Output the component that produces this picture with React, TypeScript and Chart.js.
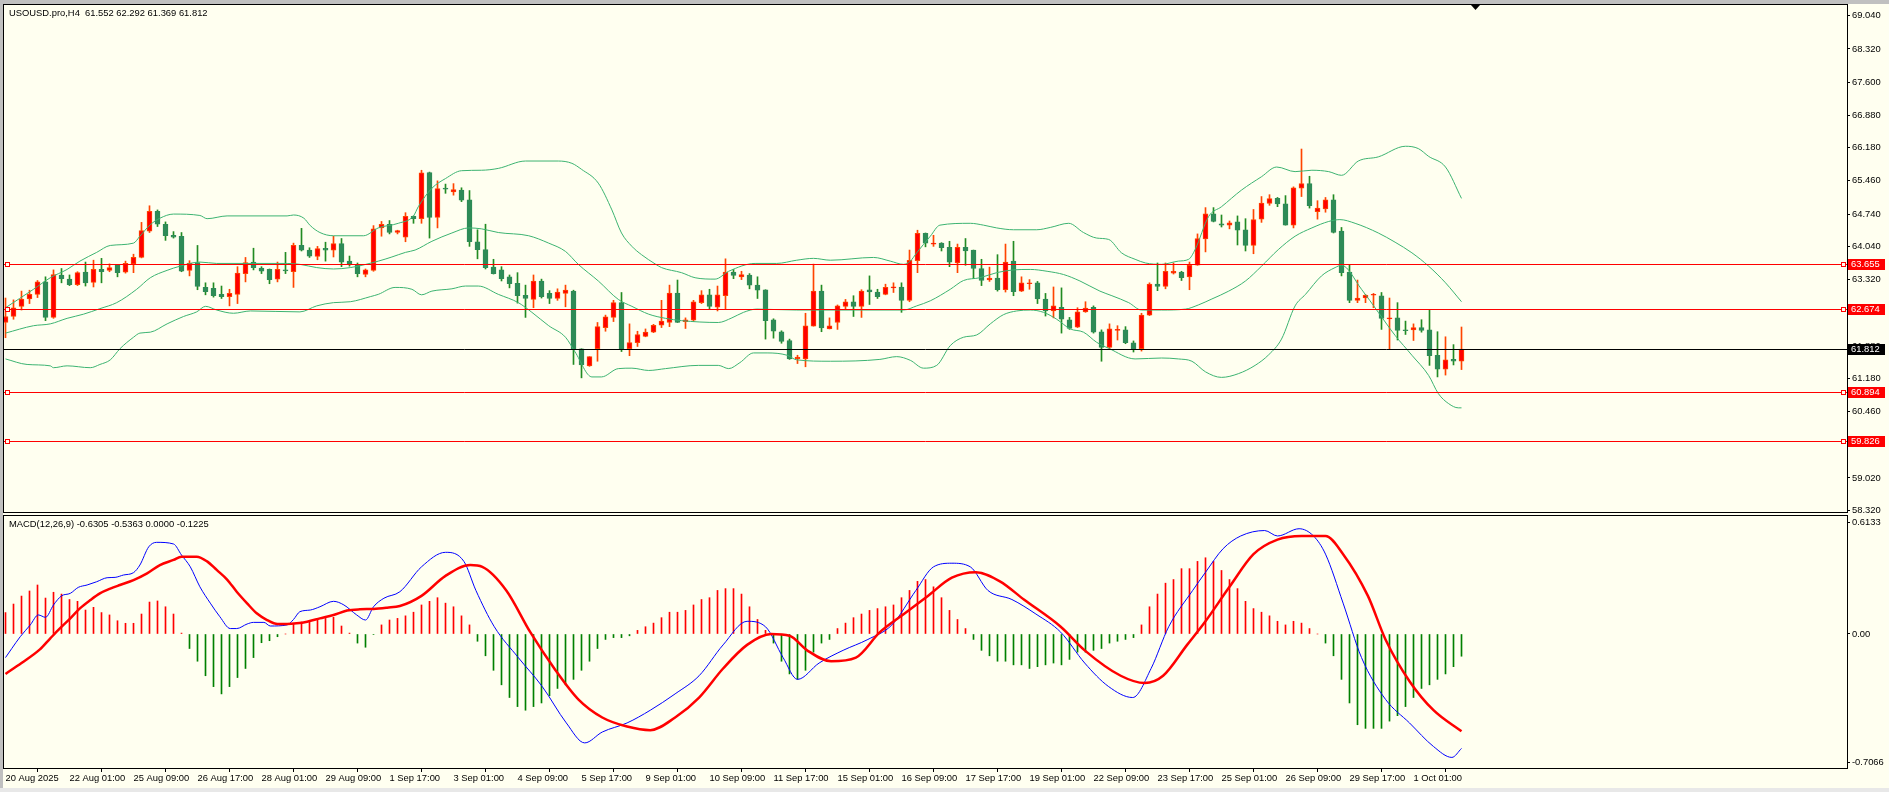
import React, { useEffect, useRef } from "react";
import { Chart, registerables } from "chart.js";

Chart.register(...registerables);

const W = 1889;
const H = 792;
const PRICE_H = 514;
const MACD_H = 278;
const BG = "#FFFFF0";
const FAMILY = "Liberation Sans";
const FS = 9.4;

const symbolTitle = "USOUSD.pro,H4";
const macdTitle = "MACD(12,26,9)";
const macdHeaderValues = [-0.6305, -0.5363, 0.0, -0.1225];

// H4 candles, 20 Aug 2025 17:00 .. 2 Oct 2025 01:00
const opens = [
  62.39, 62.52, 62.74, 62.90, 63.00, 63.27, 62.50, 63.42, 63.33, 63.21,
  63.48, 63.26, 63.54, 63.52, 63.63, 63.48, 63.66, 63.80, 64.37, 64.80,
  64.52, 64.28, 64.26, 63.52, 63.69, 63.15, 63.13, 63.00, 62.95, 63.00,
  63.45, 63.70, 63.57, 63.54, 63.33, 63.53, 63.49, 64.06, 63.96, 63.82,
  64.00, 63.96, 64.10, 63.72, 63.63, 63.43, 63.52, 64.44, 64.52, 64.34,
  64.24, 64.69, 64.64, 65.64, 64.67, 65.29, 65.22, 65.26, 65.05, 64.14,
  63.97, 63.59, 63.53, 63.38, 63.24, 62.98, 62.89, 63.29, 63.02, 62.91,
  63.02, 63.07, 61.82, 61.45, 61.82, 62.28, 62.50, 62.82, 61.82, 61.95,
  62.09, 62.18, 62.33, 62.39, 63.03, 62.41, 62.44, 62.82, 62.99, 62.72,
  62.97, 63.48, 63.38, 63.42, 63.20, 63.10, 62.45, 62.19, 62.00, 61.60,
  61.60, 62.31, 63.07, 62.25, 62.39, 62.74, 62.84, 62.74, 63.10, 63.05,
  63.00, 63.14, 63.16, 62.87, 63.73, 64.32, 64.09, 64.11, 64.02, 63.68,
  64.02, 63.96, 63.56, 63.31, 63.35, 63.10, 63.72, 63.07, 63.23, 63.25,
  62.90, 62.64, 62.72, 62.45, 62.29, 62.62, 62.72, 62.19, 61.85, 62.22,
  62.23, 61.95, 61.82, 62.55, 63.22, 63.17, 63.46, 63.48, 63.38, 63.63,
  64.20, 64.745, 64.53, 64.50, 64.57, 64.40, 64.06, 64.63, 64.97, 65.08,
  64.96, 64.50, 65.30, 65.40, 64.79, 64.85, 65.05, 64.37, 63.48, 62.87,
  62.92, 62.98, 62.97, 62.47, 62.49, 62.23, 62.23, 62.28, 62.23, 61.68,
  61.38, 61.59, 61.552,
];
const highs = [
  62.92, 62.88, 63.07, 63.09, 63.30, 63.38, 63.53, 63.56, 63.42, 63.49,
  63.70, 63.74, 63.78, 63.66, 63.65, 63.72, 63.87, 64.56, 64.92, 64.83,
  64.57, 64.36, 64.34, 63.73, 64.06, 63.25, 63.25, 63.18, 63.11, 63.60,
  63.80, 64.00, 63.60, 63.55, 63.70, 63.91, 64.11, 64.43, 64.01, 64.04,
  64.13, 64.26, 64.21, 63.83, 63.68, 63.55, 64.49, 64.58, 64.60, 64.39,
  64.77, 64.70, 65.69, 65.65, 65.46, 65.39, 65.40, 65.31, 65.25, 64.40,
  64.52, 63.76, 63.60, 63.42, 63.47, 63.20, 63.42, 63.33, 63.08, 63.12,
  63.20, 63.09, 61.82, 61.65, 62.39, 62.55, 62.87, 63.04, 62.36, 62.20,
  62.25, 62.35, 62.87, 63.20, 63.31, 62.49, 62.87, 63.08, 63.11, 63.18,
  63.77, 63.54, 63.50, 63.45, 63.38, 63.10, 62.47, 62.21, 62.03, 61.68,
  62.59, 63.655, 63.20, 62.49, 62.77, 62.89, 62.97, 63.10, 63.40, 63.11,
  63.22, 63.25, 63.25, 63.96, 64.39, 64.33, 64.28, 64.12, 64.15, 64.09,
  64.21, 63.96, 63.76, 63.59, 63.86, 64.09, 64.15, 63.38, 63.32, 63.28,
  63.02, 63.16, 63.14, 62.50, 62.71, 62.84, 62.75, 62.23, 62.36, 62.32,
  62.30, 61.99, 62.59, 63.25, 63.68, 63.68, 63.68, 63.50, 63.70, 64.31,
  64.88, 64.88, 64.72, 64.59, 64.70, 64.64, 64.84, 65.12, 65.16, 65.10,
  65.14, 65.33, 66.15, 65.56, 65.03, 65.10, 65.16, 64.45, 63.64, 63.31,
  63.00, 63.02, 63.04, 62.92, 62.82, 62.42, 62.36, 62.45, 62.66, 62.19,
  62.08, 61.91, 62.292,
];
const lows = [
  62.06, 62.46, 62.66, 62.80, 62.93, 62.43, 62.48, 63.25, 63.19, 63.19,
  63.18, 63.16, 63.25, 63.49, 63.38, 63.46, 63.47, 63.79, 64.34, 64.47,
  64.17, 64.22, 63.49, 63.40, 63.10, 62.99, 62.94, 62.91, 62.75, 62.80,
  63.27, 63.53, 63.45, 63.23, 63.27, 63.45, 63.15, 63.94, 63.80, 63.75,
  63.72, 63.81, 63.60, 63.61, 63.38, 63.38, 63.50, 64.26, 64.31, 64.31,
  64.14, 64.54, 64.54, 64.22, 64.44, 65.19, 65.15, 65.01, 64.04, 63.77,
  63.55, 63.44, 63.29, 63.14, 62.81, 62.50, 62.71, 62.92, 62.80, 62.87,
  62.73, 61.48, 61.19, 61.44, 61.55, 62.20, 62.41, 61.76, 61.67, 61.87,
  62.08, 62.17, 62.28, 62.30, 62.39, 62.26, 62.41, 62.80, 62.67, 62.64,
  62.69, 63.34, 63.32, 63.12, 62.91, 62.03, 62.05, 61.94, 61.59, 61.50,
  61.43, 62.31, 62.19, 62.25, 62.24, 62.69, 62.52, 62.50, 62.78, 62.91,
  62.99, 63.04, 62.61, 62.84, 63.47, 64.03, 64.04, 63.94, 63.60, 63.47,
  63.63, 63.34, 63.19, 63.28, 63.07, 63.05, 62.97, 63.06, 63.11, 62.80,
  62.53, 62.49, 62.16, 62.24, 62.28, 62.61, 62.16, 61.55, 61.82, 62.01,
  61.93, 61.75, 61.77, 62.54, 63.08, 63.12, 63.44, 63.30, 63.10, 63.63,
  63.92, 64.57, 64.46, 64.42, 64.07, 63.94, 63.88, 64.56, 64.93, 64.90,
  64.50, 64.44, 65.12, 64.87, 64.63, 64.78, 64.33, 63.40, 62.82, 62.82,
  62.82, 62.71, 62.24, 61.82, 62.01, 62.13, 62.00, 62.18, 61.46, 61.21,
  61.25, 61.47, 61.369,
];
const closes = [
  62.52, 62.71, 62.90, 63.00, 63.27, 62.50, 63.43, 63.34, 63.21, 63.47,
  63.25, 63.54, 63.49, 63.58, 63.47, 63.67, 63.80, 64.38, 64.80, 64.52,
  64.27, 64.24, 63.50, 63.68, 63.17, 63.06, 62.97, 62.95, 63.02, 63.46,
  63.69, 63.58, 63.50, 63.32, 63.54, 63.51, 64.06, 63.96, 63.83, 63.99,
  63.96, 64.10, 63.70, 63.66, 63.45, 63.53, 64.42, 64.52, 64.34, 64.38,
  64.69, 64.64, 65.635, 64.67, 65.29, 65.28, 65.27, 65.04, 64.14, 63.97,
  63.58, 63.45, 63.34, 63.23, 62.97, 62.91, 63.29, 62.95, 62.91, 63.05,
  63.09, 61.82, 61.47, 61.65, 62.30, 62.51, 62.82, 61.82, 61.955, 62.13,
  62.18, 62.33, 62.42, 63.03, 62.39, 62.45, 62.84, 62.99, 62.74, 62.99,
  63.48, 63.41, 63.43, 63.20, 63.09, 62.43, 62.20, 61.98, 61.60, 61.64,
  62.32, 63.07, 62.27, 62.32, 62.75, 62.84, 62.74, 63.07, 63.05, 62.95,
  63.15, 63.16, 62.87, 63.74, 64.32, 64.11, 64.11, 64.01, 63.70, 64.02,
  63.94, 63.56, 63.30, 63.35, 63.10, 63.70, 63.06, 63.25, 63.25, 62.90,
  62.64, 62.75, 62.46, 62.26, 62.62, 62.70, 62.18, 61.85, 62.25, 62.24,
  61.95, 61.82, 62.55, 63.22, 63.17, 63.50, 63.50, 63.36, 63.63, 64.21,
  64.745, 64.58, 64.50, 64.55, 64.39, 64.06, 64.62, 64.98, 65.076, 64.96,
  64.50, 65.31, 65.40, 64.92, 64.87, 65.05, 64.34, 63.47, 62.87, 62.92,
  62.98, 62.99, 62.48, 62.49, 62.22, 62.21, 62.28, 62.22, 61.67, 61.38,
  61.58, 61.55, 61.812,
];

// Bollinger Bands (20, 2) at bar positions
const bbUpperBar = [0, 3.5, 5.6, 7.7, 9.3, 11.4, 13.1, 16, 16.8, 18.1, 19.3, 21, 24.3, 25.2, 27.7, 35.2, 36, 37.3, 38.1, 39.3, 41, 44.75, 46.6, 49.1, 51, 51.6, 53.3, 55, 57, 59.5, 61.6, 65, 69.1, 70.8, 72, 74.1, 75.8, 77, 78.3, 79.5, 81.2, 82, 84.5, 86.2, 88.7, 90.4, 93.7, 96.4, 98.9, 101, 103.1, 108.5, 110.6, 112.25, 113.1, 113.9, 115.6, 116.8, 120.6, 122.25, 123.9, 126, 128.9, 130.6, 132.9, 134.75, 136.4, 137.9, 139.5, 141.2, 142.5, 144.5, 146.6, 147.9, 148.7, 150.4, 152, 154.5, 157, 158.9, 161.2, 163.3, 165.4, 167, 169.1, 171.6, 175, 176.6, 177.9, 180, 182];
const bbUpperVal = [62.71, 63.11, 63.36, 63.54, 63.72, 63.91, 64.06, 64.11, 64.26, 64.51, 64.65, 64.74, 64.71, 64.64, 64.70, 64.70, 64.72, 64.65, 64.49, 64.34, 64.27, 64.27, 64.44, 64.54, 64.70, 64.90, 65.30, 65.51, 65.68, 65.69, 65.73, 65.89, 65.89, 65.84, 65.71, 65.41, 64.83, 64.33, 64.04, 63.86, 63.66, 63.58, 63.47, 63.36, 63.33, 63.50, 63.67, 63.67, 63.74, 63.78, 63.74, 63.80, 63.72, 63.65, 63.72, 63.90, 64.26, 64.50, 64.54, 64.50, 64.44, 64.40, 64.40, 64.45, 64.54, 64.34, 64.22, 64.19, 63.90, 63.76, 63.68, 63.65, 63.72, 63.76, 63.97, 64.69, 64.90, 65.26, 65.55, 65.76, 65.66, 65.69, 65.66, 65.58, 65.89, 65.98, 66.21, 66.16, 65.99, 65.76, 65.08];

const bbMidBar = [0, 3.5, 5.6, 7.7, 9.75, 11.8, 13.9, 16.4, 18.1, 20.2, 21.8, 24.3, 26.4, 35.2, 36.8, 38.9, 41, 43.1, 46.6, 48.3, 50, 51.2, 53.3, 55.8, 57.9, 59.5, 61.6, 65.4, 67.9, 70, 71.6, 74.1, 76.6, 78.3, 80.4, 82.5, 84.5, 89.1, 90.8, 92.25, 93.9, 98.9, 112.25, 113.9, 115.6, 118.1, 119.75, 121.8, 123.9, 126, 128.1, 130.2, 132.25, 134.3, 136.8, 138.3, 140.4, 142, 144.5, 147.5, 149.1, 150.8, 152.9, 155, 157, 159.1, 161.2, 163.3, 165.4, 166.8, 168.7, 171.6, 173.7, 175.8, 177.9, 180, 182];
const bbMidVal = [62.16, 62.32, 62.36, 62.48, 62.57, 62.69, 62.82, 63.11, 63.36, 63.52, 63.61, 63.70, 63.67, 63.67, 63.65, 63.58, 63.55, 63.58, 63.72, 63.81, 63.91, 63.96, 64.15, 64.33, 64.44, 64.42, 64.34, 64.27, 64.11, 63.93, 63.65, 63.29, 62.89, 62.74, 62.57, 62.48, 62.43, 62.39, 62.49, 62.61, 62.68, 62.66, 62.66, 62.75, 62.86, 63.11, 63.30, 63.36, 63.47, 63.53, 63.54, 63.50, 63.43, 63.29, 63.07, 62.97, 62.82, 62.66, 62.66, 62.68, 62.77, 62.90, 63.07, 63.29, 63.61, 63.97, 64.26, 64.44, 64.58, 64.62, 64.54, 64.33, 64.13, 63.90, 63.61, 63.25, 62.84];

const bbLowerBar = [0, 2.7, 5.6, 6, 7.7, 10.6, 11.8, 13.1, 14.3, 16, 16.8, 18.1, 20.2, 22.25, 23.9, 25, 26.4, 28.5, 30.6, 36.8, 38.9, 41, 43.1, 45.6, 46.6, 48.7, 50.8, 52, 53.3, 55.8, 57.5, 59.1, 61.6, 64.1, 65.8, 67.9, 70, 71.2, 73.3, 74.5, 76.6, 78.3, 80.4, 82.5, 86.6, 89.1, 90.4, 91.8, 93.5, 95.2, 97.7, 98.9, 103.1, 109.3, 111.4, 113.1, 114.75, 116.4, 118.1, 119.75, 121.4, 123.1, 124.75, 126.4, 128.1, 129.75, 131.4, 133.1, 134.75, 136.4, 137.9, 141.2, 144.5, 146.6, 148.3, 150, 152, 154.1, 156.2, 157.9, 159.5, 161.2, 162.5, 164.5, 166.2, 167, 169.5, 171.6, 173.7, 175.8, 177.9, 179.1, 180.4, 181.6, 182];
const bbLowerVal = [61.60, 61.48, 61.45, 61.41, 61.45, 61.41, 61.48, 61.58, 61.82, 62.07, 62.16, 62.18, 62.36, 62.52, 62.62, 62.74, 62.66, 62.59, 62.64, 62.62, 62.75, 62.82, 62.84, 62.95, 63.00, 63.15, 63.11, 62.99, 63.07, 63.12, 63.18, 63.18, 63.00, 62.82, 62.61, 62.32, 62.07, 61.75, 61.21, 61.21, 61.39, 61.40, 61.35, 61.39, 61.46, 61.46, 61.39, 61.52, 61.73, 61.73, 61.68, 61.58, 61.55, 61.59, 61.65, 61.57, 61.40, 61.46, 61.89, 62.07, 62.12, 62.36, 62.56, 62.64, 62.66, 62.61, 62.46, 62.25, 62.18, 61.96, 61.83, 61.60, 61.62, 61.60, 61.55, 61.32, 61.20, 61.28, 61.46, 61.69, 62.03, 62.75, 63.00, 63.40, 63.58, 63.63, 63.11, 62.61, 62.11, 61.68, 61.24, 60.85, 60.63, 60.54, 60.54];

// MACD(12,26,9)
const macdBar = [0, 0.8, 1.84, 3.1, 4.1, 5, 6, 7, 8.1, 9.1, 10.2, 11.4, 12.7, 13.7, 14.75, 16, 16.8, 17.9, 18.9, 21, 22, 23.1, 24.3, 25.6, 26.8, 28.1, 28.9, 30.2, 31, 32.3, 33.1, 35.2, 36, 36.8, 38.1, 39.3, 41, 42.3, 43.9, 45, 46, 47.3, 49.3, 52, 55, 57.3, 58.8, 61.1, 64.1, 67.1, 70.1, 72.4, 74.6, 77.7, 80.6, 83.7, 86.7, 89.7, 92.7, 95, 97.2, 99, 101.7, 104.7, 107.8, 110.8, 113.8, 116, 118.3, 120.6, 122.8, 125.8, 128.8, 131.9, 134.9, 137.9, 140.9, 143.2, 145.4, 148.4, 150, 152.2, 154.4, 157.4, 159, 161.7, 163.5, 165, 167.2, 169.5, 172.5, 175.5, 178.5, 180.8, 182];
const macdVal = [-0.13, -0.079, -0.015, 0.05, 0.105, 0.092, 0.16, 0.21, 0.224, 0.257, 0.27, 0.288, 0.31, 0.312, 0.325, 0.338, 0.38, 0.48, 0.505, 0.496, 0.435, 0.37, 0.26, 0.17, 0.095, 0.03, 0.03, 0.055, 0.064, 0.064, 0.044, 0.05, 0.08, 0.123, 0.132, 0.15, 0.18, 0.16, 0.105, 0.077, 0.15, 0.197, 0.233, 0.37, 0.45, 0.40, 0.24, 0.04, -0.13, -0.29, -0.49, -0.60, -0.54, -0.49, -0.42, -0.33, -0.23, -0.06, 0.07, 0.04, -0.13, -0.25, -0.16, -0.09, -0.03, 0.05, 0.24, 0.37, 0.39, 0.37, 0.24, 0.19, 0.11, 0.01, -0.16, -0.29, -0.35, -0.19, 0.04, 0.24, 0.34, 0.47, 0.54, 0.57, 0.54, 0.58, 0.54, 0.44, 0.17, -0.13, -0.36, -0.49, -0.62, -0.68, -0.6305];

const signalBar = [0, 2, 4.3, 5.6, 6.8, 8.1, 9.3, 10.6, 11.8, 13.1, 14.3, 16, 17.7, 19.3, 21, 22, 23.9, 25.2, 26.4, 27.7, 28.9, 30.2, 31.4, 32.7, 34, 35.2, 36.4, 37.7, 39.3, 41, 42.7, 44.3, 46, 47.7, 49.3, 52, 55, 58.1, 59.6, 62.6, 65.6, 68.6, 71.6, 74.6, 77.7, 80.6, 83.7, 86.7, 89.7, 92.7, 95.7, 98, 100.2, 103.2, 106.3, 109.3, 112.3, 115.3, 118.3, 121.3, 124.3, 127.3, 131.9, 134.9, 139.4, 142.4, 144.7, 147.7, 150, 153, 156, 159, 162, 165, 167.2, 170.3, 172.5, 175.5, 178.5, 182];
const signalVal = [-0.22, -0.16, -0.085, -0.024, 0.031, 0.086, 0.141, 0.187, 0.224, 0.25, 0.27, 0.297, 0.334, 0.38, 0.408, 0.426, 0.426, 0.4, 0.353, 0.3, 0.233, 0.169, 0.114, 0.077, 0.055, 0.055, 0.059, 0.068, 0.086, 0.105, 0.129, 0.136, 0.138, 0.145, 0.154, 0.21, 0.32, 0.38, 0.37, 0.24, 0.01, -0.19, -0.36, -0.46, -0.51, -0.53, -0.46, -0.35, -0.19, -0.06, 0.0, -0.01, -0.09, -0.15, -0.13, 0.01, 0.11, 0.21, 0.31, 0.34, 0.29, 0.19, 0.04, -0.09, -0.23, -0.27, -0.23, -0.06, 0.07, 0.26, 0.44, 0.52, 0.54, 0.54, 0.44, 0.21, -0.03, -0.26, -0.42, -0.5363];

const histVal = [
  0.118, 0.165, 0.209, 0.237, 0.27, 0.198, 0.23, 0.22, 0.19, 0.18,
  0.132, 0.147, 0.118, 0.105, 0.073, 0.059, 0.059, 0.11, 0.176, 0.182,
  0.15, 0.11, 0.005, -0.08, -0.15, -0.23, -0.29, -0.33, -0.29, -0.24,
  -0.19, -0.13, -0.048, -0.037, -0.015, 0.0, 0.053, 0.066, 0.072, 0.079,
  0.086, 0.092, 0.044, 0.005, -0.05, -0.073, -0.003, 0.05, 0.077, 0.086,
  0.10, 0.12, 0.16, 0.18, 0.20, 0.17, 0.15, 0.10, 0.05, -0.04,
  -0.12, -0.2, -0.28, -0.35, -0.40, -0.42, -0.40, -0.38, -0.34, -0.30,
  -0.28, -0.25, -0.2, -0.15, -0.08, -0.03, -0.02, -0.02, -0.01, 0.02,
  0.04, 0.06, 0.09, 0.12, 0.12, 0.13, 0.16, 0.19, 0.2, 0.24,
  0.25, 0.25, 0.22, 0.15, 0.08, 0.02, -0.05, -0.15, -0.22, -0.25,
  -0.2, -0.1, -0.05, -0.03, 0.03, 0.06, 0.09, 0.11, 0.13, 0.14,
  0.15, 0.16, 0.2, 0.24, 0.29, 0.3, 0.26, 0.2, 0.13, 0.08,
  0.03, -0.03, -0.09, -0.12, -0.15, -0.15, -0.17, -0.17, -0.19, -0.18,
  -0.17, -0.16, -0.17, -0.14, -0.1, -0.1, -0.09, -0.08, -0.05, -0.04,
  -0.03, -0.02, 0.05, 0.15, 0.22, 0.28, 0.3, 0.36, 0.36, 0.4,
  0.42, 0.4, 0.35, 0.3, 0.25, 0.18, 0.14, 0.12, 0.1, 0.07,
  0.05, 0.07, 0.06, 0.03, 0.0, -0.05, -0.12, -0.25, -0.38, -0.5,
  -0.52, -0.52, -0.52, -0.48, -0.45, -0.4, -0.35, -0.3, -0.28, -0.25,
  -0.22, -0.18, -0.1225,
];

const timeTickBars = [0, 8, 16, 24, 32, 40, 48, 56, 64, 72, 80, 88, 96, 104, 112, 120, 128, 136, 144, 152, 160, 168, 176];
const timeLabels = [
  "20 Aug 2025", "22 Aug 01:00", "25 Aug 09:00", "26 Aug 17:00", "28 Aug 01:00",
  "29 Aug 09:00", "1 Sep 17:00", "3 Sep 01:00", "4 Sep 09:00", "5 Sep 17:00",
  "9 Sep 01:00", "10 Sep 09:00", "11 Sep 17:00", "15 Sep 01:00", "16 Sep 09:00",
  "17 Sep 17:00", "19 Sep 01:00", "22 Sep 09:00", "23 Sep 17:00", "25 Sep 01:00",
  "26 Sep 09:00", "29 Sep 17:00", "1 Oct 01:00",
];
const priceTicks = [69.04, 68.32, 67.6, 66.88, 66.18, 65.46, 64.74, 64.04, 63.32, 62.6, 61.88, 61.18, 60.46, 59.74, 59.02, 58.32];
const levelLines = [63.655, 62.674, 60.894, 59.826];
const macdTicks = [0.6133, 0, -0.7066];
const macdTickLabels = ["0.6133", "0.00", "-0.7066"];

// axis ranges
const X_MIN = -0.1875;
const X_MAX = 230.1875;
const P_MIN = 58.282;
const P_MAX = 69.272;
const M_MIN = -0.7383;
const M_MAX = 0.6501;

const font = `${FS}px "${FAMILY}"`;
const lastIdx = closes.length - 1;
const lastClose = closes[lastIdx];
const isBull = closes.map((c, i) => c >= opens[i]);

const pts = (xs: number[], ys: number[]) => xs.map((x, k) => ({ x, y: ys[k] }));

function paneBorder(ctx: CanvasRenderingContext2D, a: any) {
  ctx.strokeStyle = "#000";
  ctx.lineWidth = 1;
  ctx.strokeRect(a.left - 0.5, a.top - 0.5, a.right - a.left + 1, a.bottom - a.top + 1);
}

// horizontal price levels, drawn on top of the series through the y scale
const levelLinesPlugin = {
  id: "levelLines",
  afterDatasetsDraw(chart: any) {
    const { ctx, chartArea: a, scales } = chart;
    const ys = scales.y;
    ctx.save();
    ctx.lineWidth = 1;
    const draw = (v: number, color: string) => {
      const py = Math.round(ys.getPixelForValue(v)) + 0.5;
      ctx.strokeStyle = color;
      ctx.beginPath();
      ctx.moveTo(a.left, py);
      ctx.lineTo(a.right, py);
      ctx.stroke();
    };
    draw(lastClose, "#000000");
    levelLines.forEach((v) => draw(v, "#FF0000"));
    levelLines.forEach((p) => {
      const py = Math.round(ys.getPixelForValue(p));
      ctx.strokeStyle = "#FF0000";
      ctx.fillStyle = BG;
      [a.left + 1, a.right - 6].forEach((sx) => {
        ctx.fillRect(sx, py - 2, 5, 5);
        ctx.strokeRect(sx + 0.5, py - 1.5, 4, 4);
      });
    });
    ctx.restore();
  },
};

const pricePanePlugin = {
  id: "pricePane",
  afterDraw(chart: any) {
    const { ctx, chartArea: a, scales } = chart;
    const ys = scales.y;
    const xs = scales.x;
    ctx.save();
    paneBorder(ctx, a);
    ctx.font = font;
    ctx.textBaseline = "middle";
    ctx.textAlign = "left";
    ctx.fillStyle = "#000";
    const hdr = `${symbolTitle}  ${opens[lastIdx].toFixed(3)} ${highs[lastIdx].toFixed(3)} ${lows[lastIdx].toFixed(3)} ${closes[lastIdx].toFixed(3)}`;
    ctx.fillText(hdr, a.left + 5, 13);
    const tag = (v: number, bg: string) => {
      const top = Math.round(ys.getPixelForValue(v)) - 5;
      ctx.fillStyle = bg;
      ctx.fillRect(a.right + 1, top, 37, 11);
      ctx.fillStyle = "#FFFFFF";
      ctx.fillText(v.toFixed(3), a.right + 4, top + 5.5);
    };
    levelLines.forEach((v) => tag(v, "#FF0000"));
    tag(lastClose, "#000000");
    const mx = Math.round(xs.getPixelForValue(lastIdx)) + 13.5;
    ctx.fillStyle = "#000";
    ctx.beginPath();
    ctx.moveTo(mx - 4.5, a.top);
    ctx.lineTo(mx + 4.5, a.top);
    ctx.lineTo(mx, a.top + 5);
    ctx.closePath();
    ctx.fill();
    ctx.restore();
  },
};

const macdPanePlugin = {
  id: "macdPane",
  afterDraw(chart: any) {
    const { ctx, chartArea: a } = chart;
    ctx.save();
    paneBorder(ctx, a);
    ctx.font = font;
    ctx.textBaseline = "middle";
    ctx.textAlign = "left";
    ctx.fillStyle = "#000";
    const txt = `${macdTitle} ${macdHeaderValues.map((v) => v.toFixed(4)).join(" ")}`;
    ctx.fillText(txt, a.left + 5, a.top + 8);
    ctx.restore();
  },
};

function zeroPad(s: any) {
  s.paddingTop = 0;
  s.paddingBottom = 0;
  s.paddingLeft = 0;
  s.paddingRight = 0;
}

const smoothLine = (data: any, color: string, width: number) => ({
  type: "line" as const,
  data,
  borderColor: color,
  borderWidth: width,
  pointRadius: 0,
  cubicInterpolationMode: "monotone" as const,
});

export default function App() {
  const priceRef = useRef<HTMLCanvasElement>(null);
  const macdRef = useRef<HTMLCanvasElement>(null);

  useEffect(() => {
    const idx = closes.map((_, i) => i);
    const priceChart = new Chart(priceRef.current as HTMLCanvasElement, {
      type: "bar",
      data: {
        datasets: [
          smoothLine(pts(bbUpperBar, bbUpperVal), "#3CB371", 1),
          smoothLine(pts(bbMidBar, bbMidVal), "#3CB371", 1),
          smoothLine(pts(bbLowerBar, bbLowerVal), "#3CB371", 1),
          {
            type: "bar" as const,
            data: idx.map((i) => ({ x: i, y: [opens[i], closes[i]] })),
            backgroundColor: isBull.map((b) => (b ? "#FF0000" : "#2E8B57")),
            borderColor: isBull.map((b) => (b ? "#FF4500" : "#2E8B57")),
            borderWidth: 1,
            borderSkipped: false,
            barThickness: 5,
            minBarLength: 1,
            grouped: false,
          },
          {
            type: "bar" as const,
            data: idx.map((i) => ({ x: i, y: [lows[i], highs[i]] })),
            backgroundColor: isBull.map((b) => (b ? "#FF4500" : "#228B22")),
            borderWidth: 0,
            barThickness: 1,
            minBarLength: 1,
            grouped: false,
          },
        ] as any,
      },
      options: {
        animation: false,
        responsive: false,
        maintainAspectRatio: false,
        events: [],
        layout: { padding: { left: 4, top: 5, right: 0, bottom: 2 } },
        plugins: { legend: { display: false }, tooltip: { enabled: false } },
        scales: {
          x: { type: "linear", min: X_MIN, max: X_MAX, display: false, offset: false },
          y: {
            type: "linear",
            position: "right",
            min: P_MIN,
            max: P_MAX,
            afterBuildTicks: (s: any) => {
              s.ticks = priceTicks.map((v) => ({ value: v }));
            },
            afterFit: (s: any) => {
              s.width = 42;
              zeroPad(s);
            },
            ticks: {
              autoSkip: false,
              padding: 2,
              color: "#000",
              font: { family: FAMILY, size: FS },
              callback: (v: any) => Number(v).toFixed(3),
            },
            grid: { display: true, drawOnChartArea: false, drawTicks: true, tickLength: 3, color: "#000" },
            border: { display: false },
          },
        },
      } as any,
      plugins: [levelLinesPlugin, pricePanePlugin],
    });

    const macdChart = new Chart(macdRef.current as HTMLCanvasElement, {
      type: "bar",
      data: {
        datasets: [
          smoothLine(pts(signalBar, signalVal), "#FF0000", 2.5),
          smoothLine(pts(macdBar, macdVal), "#0000FF", 1),
          {
            type: "bar" as const,
            data: idx.map((i) => ({ x: i, y: histVal[i] })),
            backgroundColor: histVal.map((v) => (v >= 0 ? "#FF0000" : "#008000")),
            borderWidth: 0,
            barThickness: 1,
            grouped: false,
          },
        ] as any,
      },
      options: {
        animation: false,
        responsive: false,
        maintainAspectRatio: false,
        events: [],
        layout: { padding: { left: 4, top: 2, right: 0, bottom: 0 } },
        plugins: { legend: { display: false }, tooltip: { enabled: false } },
        scales: {
          x: {
            type: "linear",
            position: "bottom",
            min: X_MIN,
            max: X_MAX,
            offset: false,
            afterBuildTicks: (s: any) => {
              s.ticks = timeTickBars.map((v) => ({ value: v }));
            },
            afterFit: (s: any) => {
              s.height = 24;
              zeroPad(s);
            },
            ticks: {
              autoSkip: false,
              maxRotation: 0,
              minRotation: 0,
              align: "start",
              padding: 1,
              color: "#000",
              font: { family: FAMILY, size: FS },
              callback: (_v: any, i: number) => timeLabels[i],
            },
            grid: { display: true, drawOnChartArea: false, drawTicks: true, tickLength: 4, color: "#000" },
            border: { display: false },
          },
          y: {
            type: "linear",
            position: "right",
            min: M_MIN,
            max: M_MAX,
            afterBuildTicks: (s: any) => {
              s.ticks = macdTicks.map((v) => ({ value: v }));
            },
            afterFit: (s: any) => {
              s.width = 42;
              zeroPad(s);
            },
            ticks: {
              autoSkip: false,
              padding: 2,
              color: "#000",
              font: { family: FAMILY, size: FS },
              callback: (_v: any, i: number) => macdTickLabels[i],
            },
            grid: { display: true, drawOnChartArea: false, drawTicks: true, tickLength: 3, color: "#000" },
            border: { display: false },
          },
        },
      } as any,
      plugins: [macdPanePlugin],
    });

    return () => {
      priceChart.destroy();
      macdChart.destroy();
    };
  }, []);

  return (
    <div style={{ position: "fixed", left: 0, top: 0, width: W, height: H, background: BG, overflow: "hidden" }}>
      <div style={{ position: "absolute", left: 0, top: 0, width: W, height: 4, background: "#C0C0C0" }} />
      <div style={{ position: "absolute", left: 0, top: 0, width: 3, height: H, background: "#C0C0C0" }} />
      <div style={{ position: "absolute", left: 0, top: H - 4, width: W, height: 4, background: "#E8E8E8" }} />
      <canvas
        ref={priceRef}
        width={W}
        height={PRICE_H}
        style={{ position: "absolute", left: 0, top: 0, width: W, height: PRICE_H }}
      />
      <canvas
        ref={macdRef}
        width={W}
        height={MACD_H}
        style={{ position: "absolute", left: 0, top: PRICE_H, width: W, height: MACD_H }}
      />
    </div>
  );
}
